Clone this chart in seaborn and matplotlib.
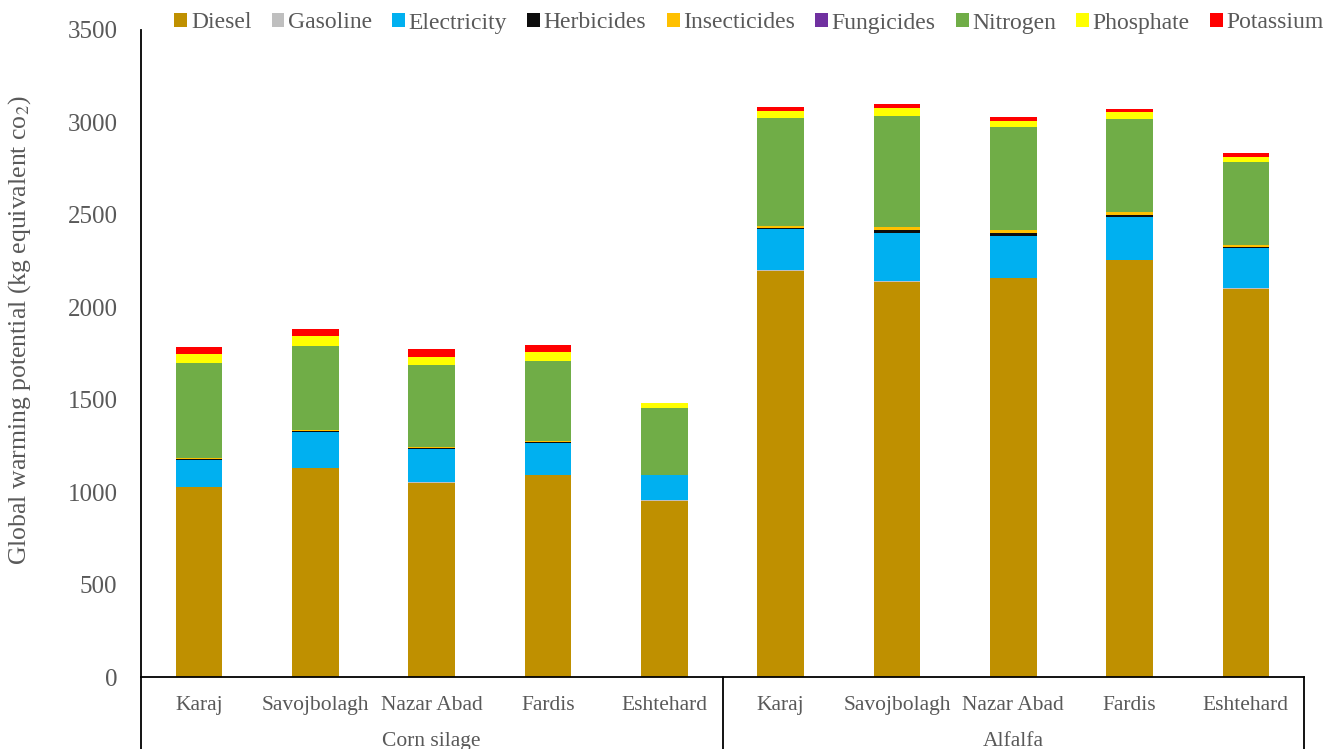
import numpy as np
import pandas as pd
import matplotlib
matplotlib.use("Agg")
import matplotlib.pyplot as plt
import matplotlib.transforms as mtransforms
from matplotlib.patches import Patch
import seaborn as sns

# --- Data (kg CO2 eq per source, stacked bottom -> top) ---
CROPS = ["Corn silage", "Alfalfa"]
SITES = ["Karaj", "Savojbolagh", "Nazar Abad", "Fardis", "Eshtehard"]

diesel       = [1028, 1129, 1051, 1091, 954, 2196, 2139, 2157, 2254, 2099]
gasoline     = [2, 2, 2, 2, 2, 3, 3, 3, 3, 3]
electricity  = [144, 193, 180, 171, 135, 223, 262, 228, 233, 217]
herbicides   = [6, 8, 7, 7, 3, 5, 12, 12, 10, 7]
insecticides = [5, 2, 2, 3, 1, 13, 17, 17, 14, 11]
fungicides   = [0, 0, 0, 0, 0, 0, 0, 0, 0, 0]
nitrogen     = [515, 458, 446, 437, 362, 584, 604, 557, 506, 448]
phosphate    = [47, 51, 45, 49, 25, 36, 43, 36, 35, 28]
potassium    = [38, 40, 40, 36, 1, 24, 18, 20, 18, 24]

SOURCES = ["Diesel", "Gasoline", "Electricity", "Herbicides", "Insecticides",
           "Fungicides", "Nitrogen", "Phosphate", "Potassium"]
VALUES = [diesel, gasoline, electricity, herbicides, insecticides,
          fungicides, nitrogen, phosphate, potassium]
COLORS = ["#BF9000", "#BFBFBF", "#00B0F0", "#0D0D0D", "#FFC000",
          "#7030A0", "#70AD47", "#FFFF00", "#FF0000"]

GREY = "#595959"

sns.set_style("white")
plt.rcParams["font.family"] = ["Liberation Serif", "DejaVu Serif"]
plt.rcParams["mathtext.fontset"] = "stix"

# unique category keys so both crops keep their own bars
cat_keys = [f"{c}|{s}" for c in CROPS for s in SITES]

fig = plt.figure(figsize=(13.25, 7.49), dpi=100)
ax = fig.add_axes([141 / 1325, 1 - 677 / 749, 1163 / 1325, 647 / 749])

bottom = np.zeros(len(cat_keys))
for name, vals, col in zip(SOURCES, VALUES, COLORS):
    df = pd.DataFrame({"cat": cat_keys, "val": vals})
    sns.barplot(data=df, x="cat", y="val", order=cat_keys, color=col,
                saturation=1, width=0.4, errorbar=None, bottom=bottom,
                linewidth=0, ax=ax)
    bottom = bottom + np.array(vals)

ax.set_xlim(-0.5, len(cat_keys) - 0.5)
ax.set_ylim(0, 3500)
ax.set_yticks(range(0, 3501, 500))
ax.tick_params(axis="y", length=0, pad=17, labelsize=18, labelcolor=GREY)
ax.set_xticks(range(len(cat_keys)))
ax.set_xticklabels([k.split("|")[1] for k in cat_keys])
ax.tick_params(axis="x", length=0, pad=14, labelsize=15.5, labelcolor=GREY)
ax.set_xlabel("")
ax.set_ylabel("Global warming potential (kg equivalent co$_{2}$)",
              fontsize=18.5, color=GREY)
ax.yaxis.set_label_coords(-0.093, 0.536)

for side in ["top", "right"]:
    ax.spines[side].set_visible(False)
for side in ["left", "bottom"]:
    ax.spines[side].set_color("black")
    ax.spines[side].set_linewidth(1.3)

# group separators below the axis
trans = mtransforms.blended_transform_factory(ax.transData, ax.transAxes)
for xpos in [-0.5, 4.5, 9.5]:
    ax.plot([xpos, xpos], [0, -0.15], transform=trans, color="black",
            lw=1.3, clip_on=False)
for i, crop in enumerate(CROPS):
    ax.text(i * 5 + 2, -0.1, crop, transform=trans, ha="center",
            va="center", fontsize=15.5, color=GREY)

handles = [Patch(facecolor=c, edgecolor="none") for c in COLORS]
fig.legend(handles, SOURCES, loc="center", ncol=9, frameon=False,
           bbox_to_anchor=(749 / 1325, 1 - 23 / 749), fontsize=17,
           handlelength=0.55, handleheight=0.55, handletextpad=0.15,
           columnspacing=0.85, labelcolor=GREY)

fig.savefig("out.png", dpi=100)
